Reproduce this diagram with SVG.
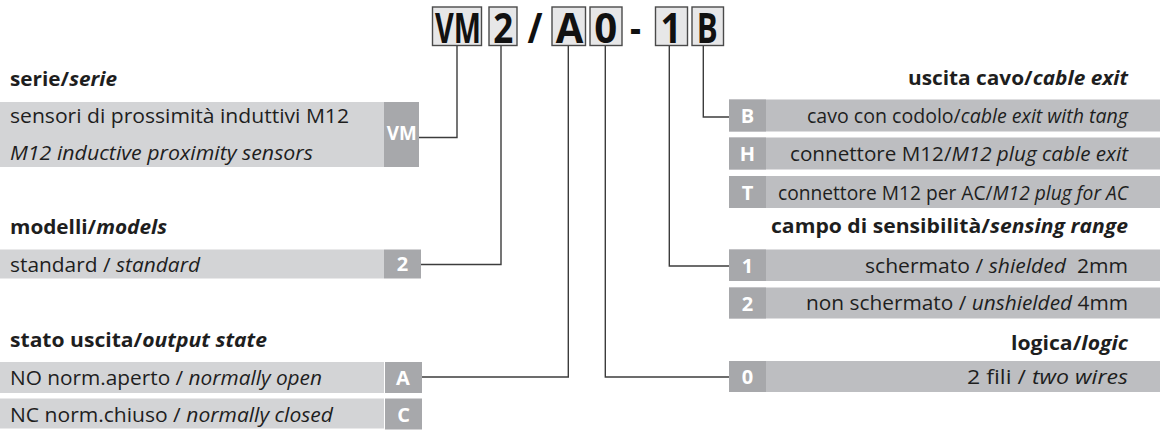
<svg xmlns="http://www.w3.org/2000/svg" width="1160" height="432" viewBox="0 0 1160 432">
<style>
text{font-family:"Open Sans","Noto Sans","Liberation Sans",sans-serif;fill:#1e1e1e}
.t{font-size:19.5px}
.h{font-size:19.5px;font-weight:bold}
.i{font-style:italic}
.ib{font-style:italic;font-weight:bold}
.barL{fill:#d3d4d6}
.barR{fill:#bdbec1}
.tab{fill:#a7a8ab}
.tl{font-size:20px;font-weight:bold;fill:#ffffff;text-anchor:middle}
.code rect{fill:#e7e7e8;stroke:#4a4a4a;stroke-width:1.4}
.code text{font-size:34px;font-weight:bold;fill:#111;text-anchor:middle}
.conn path{fill:none;stroke:#3c3c3c;stroke-width:1.4}
.r{text-anchor:end}
</style>
<rect width="1160" height="432" fill="#ffffff"/>
<g id="code" class="code">
  <rect x="432.5" y="7" width="49" height="38.5"/>
  <text transform="translate(458,42.5) scale(1,1.22)" textLength="46" lengthAdjust="spacingAndGlyphs">VM</text>
  <rect x="489" y="7" width="28" height="38.5"/>
  <text transform="translate(503.3,42.5) scale(1,1.22)" textLength="20" lengthAdjust="spacingAndGlyphs">2</text>
  <text transform="translate(535,42.5) scale(1,1.22)" textLength="15" lengthAdjust="spacingAndGlyphs">/</text>
  <rect x="552" y="7" width="33.5" height="38.5"/>
  <text transform="translate(569.5,42.5) scale(1,1.22)" textLength="27.5" lengthAdjust="spacingAndGlyphs">A</text>
  <rect x="590" y="7" width="32" height="38.5"/>
  <text transform="translate(605.8,42.5) scale(1,1.22)" textLength="23" lengthAdjust="spacingAndGlyphs">0</text>
  <text transform="translate(635.5,42.5) scale(1,1.22)" textLength="11" lengthAdjust="spacingAndGlyphs">-</text>
  <rect x="655.5" y="7" width="32" height="38.5"/>
  <text transform="translate(671,42.5) scale(1,1.22)" textLength="21" lengthAdjust="spacingAndGlyphs">1</text>
  <rect x="692" y="7" width="31.5" height="38.5"/>
  <text transform="translate(707.3,42.5) scale(1,1.22)" textLength="21" lengthAdjust="spacingAndGlyphs">B</text>
</g>
<g id="connectors" class="conn">
  <path d="M457,46 V137.5 H419"/>
  <path d="M501,46 V264.5 H421"/>
  <path d="M568.3,46 V377 H422"/>
  <path d="M605.3,46 V377 H729"/>
  <path d="M669.3,46 V266 H729"/>
  <path d="M703.3,46 V117 H729"/>
</g>
<g id="serie">
  <text class="h" x="10" y="86" textLength="107" lengthAdjust="spacingAndGlyphs">serie/<tspan class="ib">serie</tspan></text>
  <rect class="barL" x="0" y="102" width="384" height="65"/>
  <text class="t" x="10" y="123" textLength="339" lengthAdjust="spacingAndGlyphs">sensori di prossimità induttivi M12</text>
  <text class="t i" x="10" y="160" textLength="303" lengthAdjust="spacingAndGlyphs">M12 inductive proximity sensors</text>
  <rect class="tab" x="384" y="102" width="35" height="65"/>
  <text class="tl" x="401.7" y="140" textLength="30" lengthAdjust="spacingAndGlyphs">VM</text>
</g>
<g id="modelli">
  <text class="h" x="10" y="234" textLength="157" lengthAdjust="spacingAndGlyphs">modelli/<tspan class="ib">models</tspan></text>
  <rect class="barL" x="0" y="249.5" width="384" height="29"/>
  <text class="t" x="10" y="271.5" textLength="190" lengthAdjust="spacingAndGlyphs">standard / <tspan class="i">standard</tspan></text>
  <rect class="tab" x="384" y="249.5" width="37" height="29"/>
  <text class="tl" x="402.5" y="271">2</text>
</g>
<g id="stato">
  <text class="h" x="10" y="346.5" textLength="257" lengthAdjust="spacingAndGlyphs">stato uscita/<tspan class="ib">output state</tspan></text>
  <rect class="barL" x="0" y="362" width="384" height="31"/>
  <text class="t" x="10" y="385" textLength="312" lengthAdjust="spacingAndGlyphs">NO norm.aperto / <tspan class="i">normally open</tspan></text>
  <rect class="tab" x="385" y="362" width="37" height="31"/>
  <text class="tl" x="403" y="384.5">A</text>
  <rect class="barL" x="0" y="398.5" width="384" height="30"/>
  <text class="t" x="10" y="422" textLength="323" lengthAdjust="spacingAndGlyphs">NC norm.chiuso / <tspan class="i">normally closed</tspan></text>
  <rect class="tab" x="385" y="398.5" width="37" height="31"/>
  <text class="tl" x="403.5" y="421.5">C</text>
</g>
<g id="uscita">
  <text class="h r" x="1128" y="85" textLength="220" lengthAdjust="spacingAndGlyphs">uscita cavo/<tspan class="ib">cable exit</tspan></text>
  <rect class="barR" x="729" y="99.5" width="431" height="32"/>
  <rect class="tab" x="729" y="99.5" width="37" height="32"/>
  <text class="tl" x="747.5" y="123">B</text>
  <text class="t r" x="1128" y="123" textLength="321" lengthAdjust="spacingAndGlyphs">cavo con codolo/<tspan class="i">cable exit with tang</tspan></text>
  <rect class="barR" x="729" y="137.5" width="431" height="32"/>
  <rect class="tab" x="729" y="137.5" width="37" height="32"/>
  <text class="tl" x="747.5" y="161">H</text>
  <text class="t r" x="1128" y="161" textLength="338" lengthAdjust="spacingAndGlyphs">connettore M12/<tspan class="i">M12 plug cable exit</tspan></text>
  <rect class="barR" x="729" y="176" width="431" height="32"/>
  <rect class="tab" x="729" y="176" width="37" height="32"/>
  <text class="tl" x="747.5" y="199.5">T</text>
  <text class="t r" x="1128" y="199.5" textLength="350" lengthAdjust="spacingAndGlyphs">connettore M12 per AC/<tspan class="i">M12 plug for AC</tspan></text>
</g>
<g id="campo">
  <text class="h r" x="1128" y="233" textLength="357" lengthAdjust="spacingAndGlyphs">campo di sensibilità/<tspan class="ib">sensing range</tspan></text>
  <rect class="barR" x="729" y="249.5" width="431" height="31.5"/>
  <rect class="tab" x="729" y="249.5" width="37" height="31.5"/>
  <text class="tl" x="747.5" y="272.5">1</text>
  <text class="t r" x="1128" y="272.5" textLength="263" lengthAdjust="spacingAndGlyphs" xml:space="preserve">schermato / <tspan class="i">shielded</tspan>  2mm</text>
  <rect class="barR" x="729" y="287.5" width="431" height="31"/>
  <rect class="tab" x="729" y="287.5" width="37" height="31"/>
  <text class="tl" x="747.5" y="310.5">2</text>
  <text class="t r" x="1128" y="310" textLength="322" lengthAdjust="spacingAndGlyphs">non schermato / <tspan class="i">unshielded</tspan> 4mm</text>
</g>
<g id="logica">
  <text class="h r" x="1128" y="350" textLength="117" lengthAdjust="spacingAndGlyphs">logica/<tspan class="ib">logic</tspan></text>
  <rect class="barR" x="729" y="361" width="431" height="31"/>
  <rect class="tab" x="729" y="361" width="37" height="31"/>
  <text class="tl" x="747.5" y="384">0</text>
  <text class="t r" x="1128" y="384" textLength="161" lengthAdjust="spacingAndGlyphs">2 fili / <tspan class="i">two wires</tspan></text>
</g>
</svg>
